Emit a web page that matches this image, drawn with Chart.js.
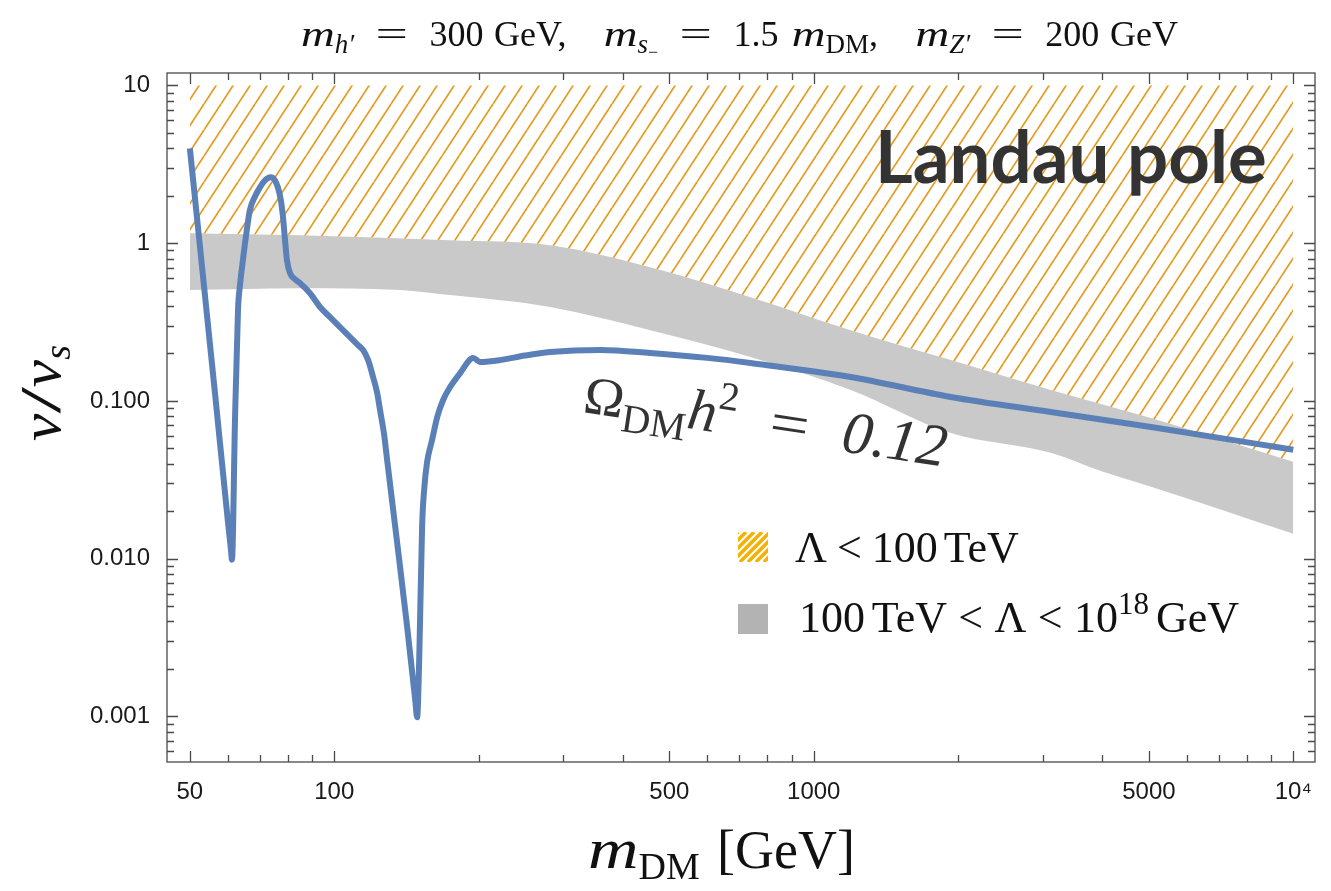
<!DOCTYPE html>
<html>
<head>
<title>Relic density vs Landau pole</title>
<script src="https://cdn.jsdelivr.net/npm/chart.js"></script>
<style>
  html, body { margin: 0; padding: 0; background: #fff; }
</style>
</head>
<body>
<canvas id="myChart" width="1331" height="891"></canvas>
<script>
// Omega h^2 = 0.12 curve: m_DM [GeV] and v/v_s
const relicMass = [50, 56.4, 60.0, 60.9, 61.2, 62.1, 63.0, 63.6, 64.5, 65.5, 66.7, 68.4, 70.0, 71.7, 73.8, 75.2, 76.3, 77.4, 78.2,
  78.9, 79.7, 80.9, 82.8, 84.9, 89.0, 93.4, 98.0, 102.8, 107.9, 112.1, 114.9, 117.7, 120.5, 122.9, 124.6,
  127.1, 128.9, 135.3, 141.9, 147.5, 148.9, 150.4, 152.5, 154.0, 156.2, 160.0, 164.0, 168.7, 174.5, 183.1, 194.9, 201.6,
  221.8, 250, 282, 359, 456, 600, 738, 1194, 1931, 3120, 5050, 10000];
const relicRatio = [3.99, 0.1125, 0.0174, 0.0114, 0.00986, 0.0759, 0.377, 0.542, 0.78, 1.124, 1.62, 1.984, 2.26, 2.505, 2.62, 2.505, 2.26, 1.871, 1.46,
  1.075, 0.78, 0.645, 0.591, 0.558, 0.483, 0.394, 0.340, 0.294, 0.254, 0.226, 0.210, 0.1815, 0.142, 0.1125, 0.0877,
  0.061, 0.0424, 0.0126, 0.00372, 0.00128, 0.000987, 0.0023, 0.0160, 0.0273, 0.0410, 0.0566, 0.0792, 0.1014, 0.1227, 0.1503, 0.187, 0.1766,
  0.1815, 0.194, 0.204, 0.2104, 0.2014, 0.1875, 0.174, 0.142, 0.106, 0.0851, 0.0684, 0.049];

// grey band 100 TeV < Lambda < 10^18 GeV (upper edge = lower edge of hatched region)
const bandTopMass = [50, 84.9, 174.5, 282, 456, 738, 1194, 1931, 3120, 5050, 10000];
const bandTop = [1.157, 1.124, 1.045, 0.971, 0.705, 0.455, 0.281, 0.1815, 0.1175, 0.078, 0.0411];
const bandLowMass = [50, 84.9, 137, 174.5, 282, 456, 738, 1194, 1931, 3120, 3970, 5050, 10000];
const bandLow = [0.505, 0.519, 0.505, 0.469, 0.394, 0.281, 0.190, 0.1175, 0.0627, 0.047, 0.036, 0.0286, 0.0144];

// hatched region Lambda < 100 TeV, upper edge
const hatchMass = [50, 10000];
const hatchTop = [10, 10];

// axes
const xMajorTicks = [50, 100, 500, 1000, 5000, 10000];
const xTickLabels = ['50', '100', '500', '1000', '5000', '10\u2074'];
const xMinorTicks = [60, 70, 80, 90, 200, 300, 400, 600, 700, 800, 900, 2000, 3000, 4000, 6000, 7000, 8000, 9000];
const yMajorTicks = [0.001, 0.01, 0.1, 1, 10];
const yTickLabels = ['0.001', '0.010', '0.100', '1', '10'];
const yMinorTicks = [0.0006, 0.0007, 0.0008, 0.0009,
  0.002, 0.003, 0.004, 0.005, 0.006, 0.007, 0.008, 0.009,
  0.02, 0.03, 0.04, 0.05, 0.06, 0.07, 0.08, 0.09,
  0.2, 0.3, 0.4, 0.5, 0.6, 0.7, 0.8, 0.9,
  2, 3, 4, 5, 6, 7, 8, 9];

const SERIF = '"Liberation Serif", "DejaVu Serif", serif';
const SANS = '"Liberation Sans", Arial, sans-serif';
const it = s => 'italic ' + s + 'px ' + SERIF;
const rm = s => s + 'px ' + SERIF;

function pts(xs, ys) {
  return xs.map((v, i) => ({ x: v, y: ys[i] }));
}

function hatchPattern(ctx) {
  const w = 17, h = 26;
  const c = document.createElement('canvas');
  c.width = w; c.height = h;
  const g = c.getContext('2d');
  g.strokeStyle = '#E39B1F';
  g.lineWidth = 1.7;
  [-w, 0, w].forEach(o => {
    g.beginPath(); g.moveTo(o, h); g.lineTo(o + w, 0); g.stroke();
  });
  return ctx.createPattern(c, 'repeat');
}

// run of text pieces [text, font, dy, xscale]; a bare number is a gap.
// with `width` given, the gaps are stretched so the run spans that width
function rich(ctx, parts, x, y, align, width) {
  let tw = 0, gw = 0;
  const wOf = p => { ctx.font = p[1]; return ctx.measureText(p[0]).width * (p[3] || 1); };
  parts.forEach(p => {
    if (typeof p === 'number') gw += p;
    else tw += wOf(p);
  });
  const k = width && gw ? Math.max(0, (width - tw) / gw) : 1;
  const total = tw + gw * k;
  let cx = align === 'center' ? x - total / 2 : x;
  parts.forEach(p => {
    if (typeof p === 'number') { cx += p * k; return; }
    const w = wOf(p);
    ctx.save();
    ctx.translate(cx, y + (p[2] || 0));
    ctx.scale(p[3] || 1, 1);
    ctx.fillText(p[0], 0, 0);
    ctx.restore();
    cx += w;
  });
}

const decor = {
  id: 'decor',
  afterDraw(chart) {
    const { ctx, chartArea: a, scales: { x, y } } = chart;
    ctx.save();
    // frame + inward ticks on all four sides
    ctx.strokeStyle = '#4a4a4a';
    ctx.lineWidth = 1.3;
    ctx.strokeRect(a.left, a.top, a.right - a.left, a.bottom - a.top);
    ctx.beginPath();
    const tx = (v, len) => {
      const p = Math.round(x.getPixelForValue(v)) + 0.5;
      ctx.moveTo(p, a.bottom); ctx.lineTo(p, a.bottom - len);
      ctx.moveTo(p, a.top); ctx.lineTo(p, a.top + len);
    };
    const ty = (v, len) => {
      const p = Math.round(y.getPixelForValue(v)) + 0.5;
      ctx.moveTo(a.left, p); ctx.lineTo(a.left + len, p);
      ctx.moveTo(a.right, p); ctx.lineTo(a.right - len, p);
    };
    xMajorTicks.forEach(v => tx(v, 11));
    xMinorTicks.forEach(v => tx(v, 7));
    yMajorTicks.forEach(v => ty(v, 11));
    yMinorTicks.forEach(v => ty(v, 7));
    ctx.stroke();

    ctx.fillStyle = '#111';
    ctx.textBaseline = 'alphabetic';
    // title
    const M = ['m', it(36), 0, 1.3], EQ = ['=', rm(36), 0, 1.6];
    rich(ctx, [
      M, ['h\u2032', it(27), 7], 8, EQ, 8, ['300', rm(36)], 4, ['GeV,', rm(36)], 14,
      M, ['s', it(27), 7], ['\u2212', rm(18), 12], 8, EQ, 8, ['1.5', rm(36)], 5,
      M, ['DM', rm(27), 7], [',', rm(36)], 14,
      M, ['Z\u2032', it(27), 7], 8, EQ, 8, ['200', rm(36)], 4, ['GeV', rm(36)]
    ], 301, 46, 'left', 877);

    // x axis title
    rich(ctx, [['m', it(56), 0, 1.25], ['DM', rm(38), 11], 20, ['[GeV]', rm(54)]], 588, 868, 'left', 267);

    // y axis title
    ctx.save();
    ctx.translate(60, 393);
    ctx.rotate(-Math.PI / 2);
    rich(ctx, [['v', it(56), 0, 1.1], ['/', rm(56), 0, 1.7], ['v', it(56), 0, 1.1], ['s', it(38), 10]], 0, 0, 'center');
    ctx.restore();

    // Landau pole
    ctx.fillStyle = '#333';
    ctx.font = 'bold 70px Lato, "Open Sans", sans-serif';
    const lw = ctx.measureText('Landau pole').width;
    ctx.font = 'bold ' + (70 * 392 / lw).toFixed(1) + 'px Lato, "Open Sans", sans-serif';
    ctx.fillText('Landau pole', 875, 183);

    // relic label, tilted
    ctx.save();
    ctx.translate(582, 412);
    ctx.rotate(8.6 * Math.PI / 180);
    rich(ctx, [
      ['\u03A9', rm(54)], ['DM', rm(40), 13], ['h', it(58)], ['2', rm(40), -24], 14,
      ['=', rm(58), 0, 1.2], 14, ['0.12', it(60)]
    ], 0, 0, 'left', 366);
    ctx.restore();

    // legend
    ctx.save();
    ctx.beginPath(); ctx.rect(738, 532, 30, 30); ctx.clip();
    ctx.strokeStyle = '#F5B000'; ctx.lineWidth = 3.4;
    ctx.beginPath();
    for (let k = -30; k < 60; k += 8) { ctx.moveTo(738 + k, 562); ctx.lineTo(738 + k + 30, 532); }
    ctx.stroke();
    ctx.restore();
    ctx.fillStyle = '#B3B3B3';
    ctx.fillRect(738, 604, 30, 30);
    ctx.fillStyle = '#111';
    rich(ctx, [['\u039B', rm(44)], 10, ['<', rm(44)], 10, ['100', rm(44)], 6, ['TeV', rm(44)]], 795, 562, 'left');
    rich(ctx, [
      ['100', rm(44)], 6, ['TeV', rm(44)], 10, ['<', rm(44)], 10, ['\u039B', rm(44)], 10, ['<', rm(44)], 10,
      ['10', rm(44)], ['18', rm(31), -18], 6, ['GeV', rm(44)]
    ], 799, 632, 'left', 440);
    ctx.restore();
  }
};

const canvas = document.getElementById('myChart');
const ctx = canvas.getContext('2d');

const config = {
  type: 'line',
  data: {
    datasets: [
      {
        data: pts(hatchMass, hatchTop),
        borderWidth: 0, pointRadius: 0,
        backgroundColor: hatchPattern(ctx),
        fill: 1
      },
      {
        data: pts(bandTopMass, bandTop),
        borderWidth: 0, pointRadius: 0,
        cubicInterpolationMode: 'monotone',
        backgroundColor: '#C9C9C9',
        fill: 2
      },
      {
        data: pts(bandLowMass, bandLow),
        borderWidth: 0, pointRadius: 0,
        cubicInterpolationMode: 'monotone',
        fill: false
      },
      {
        data: pts(relicMass, relicRatio),
        order: -1,
        borderColor: '#5B80B7',
        borderWidth: 6,
        pointRadius: 0,
        cubicInterpolationMode: 'monotone',
        borderCapStyle: 'butt',
        borderJoinStyle: 'round',
        fill: false
      }
    ]
  },
  options: {
    responsive: false,
    animation: false,
    devicePixelRatio: 1,
    layout: { padding: { top: 73, right: 16, left: 0, bottom: 0 } },
    plugins: { legend: { display: false }, tooltip: { enabled: false } },
    scales: {
      x: {
        type: 'logarithmic',
        min: 44.8, max: 11100,
        afterFit: s => { s.height = 129; },
        afterBuildTicks: s => { s.ticks = xMajorTicks.map(v => ({ value: v })); },
        grid: { drawOnChartArea: false, drawTicks: false, color: 'rgba(0,0,0,0)' },
        border: { display: false },
        ticks: {
          autoSkip: false, maxRotation: 0, padding: 16,
          color: '#1a1a1a', font: { family: SANS, size: 24 },
          callback: (v, i) => xTickLabels[i]
        }
      },
      y: {
        type: 'logarithmic',
        min: 5.14e-4, max: 12,
        afterFit: s => { s.width = 167; },
        afterBuildTicks: s => { s.ticks = yMajorTicks.map(v => ({ value: v })); },
        grid: { drawOnChartArea: false, drawTicks: false, color: 'rgba(0,0,0,0)' },
        border: { display: false },
        ticks: {
          autoSkip: false, padding: 17,
          color: '#1a1a1a', font: { family: SANS, size: 24 },
          callback: (v, i) => yTickLabels[i]
        }
      }
    }
  },
  plugins: [decor]
};

new Chart(ctx, config);
</script>
</body>
</html>
